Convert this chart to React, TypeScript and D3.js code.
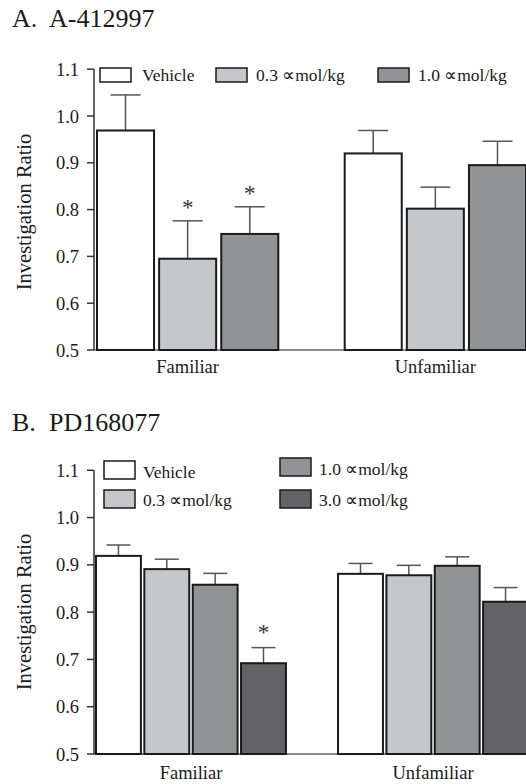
import React from "react";
import * as d3 from "d3";

const categories = ["Familiar", "Unfamiliar"];
const yTicks = [0.5, 0.6, 0.7, 0.8, 0.9, 1.0, 1.1];

const seriesA = ["Vehicle", "0.3 \u221Dmol/kg", "1.0 \u221Dmol/kg"];
const colorsA = ["#ffffff", "#c6c7c9", "#929396"];
const meansA = [
  [0.969, 0.695, 0.748],
  [0.92, 0.802, 0.895],
];
const semA = [
  [0.076, 0.081, 0.058],
  [0.049, 0.046, 0.051],
];
const sigA = [
  [false, true, true],
  [false, false, false],
];

const seriesB = ["Vehicle", "0.3 \u221Dmol/kg", "1.0 \u221Dmol/kg", "3.0 \u221Dmol/kg"];
const colorsB = ["#ffffff", "#c6c7c9", "#929396", "#636365"];
const meansB = [
  [0.919, 0.891, 0.858, 0.692],
  [0.881, 0.878, 0.898, 0.822],
];
const semB = [
  [0.023, 0.021, 0.024, 0.033],
  [0.022, 0.021, 0.019, 0.03],
];
const sigB = [
  [false, false, false, true],
  [false, false, false, false],
];

const FONT = "'Liberation Serif', 'Times New Roman', serif";

type LegendItem = { x: number; y: number; w: number; h: number; tx: number; ty: number };

type PanelProps = {
  title: [string, string];
  titleY: number;
  titleX2: number;
  series: string[];
  colors: string[];
  means: number[][];
  sems: number[][];
  sig: boolean[][];
  yRange: [number, number];
  xRange: [number, number];
  padInner: number;
  barPad: number;
  capW: number;
  legend: LegendItem[];
  ylabelY: number;
  catY: number;
  starOffset: number;
};

function Panel(p: PanelProps) {
  const y = d3.scaleLinear().domain([0.5, 1.1]).range(p.yRange);
  const x0 = d3.scaleBand<string>().domain(categories).range(p.xRange).paddingInner(p.padInner).paddingOuter(0);
  const x1 = d3
    .scaleBand<string>()
    .domain(p.series)
    .range([0, x0.bandwidth()])
    .paddingInner(p.barPad)
    .paddingOuter(0);
  const axisX = 94;
  return (
    <g fontFamily={FONT} fill="#1a1a1a">
      <text x={12} y={p.titleY} fontSize={26}>{p.title[0]}</text>
      <text x={p.titleX2} y={p.titleY} fontSize={26}>{p.title[1]}</text>
      {/* baseline */}
      <line x1={axisX} x2={526} y1={y(0.5)} y2={y(0.5)} stroke="#666" strokeWidth={1.5} />
      {/* bars */}
      {categories.map((c, ci) => (
        <g key={c} transform={`translate(${x0(c)},0)`}>
          {p.series.map((s, si) => {
            const v = p.means[ci][si];
            const e = v + p.sems[ci][si];
            const bx = x1(s)!;
            const bw = x1.bandwidth();
            const cx = bx + bw / 2;
            return (
              <g key={s}>
                <line x1={cx} x2={cx} y1={y(v)} y2={y(e)} stroke="#555" strokeWidth={1.5} />
                <line x1={cx - p.capW / 2} x2={cx + p.capW / 2} y1={y(e)} y2={y(e)} stroke="#555" strokeWidth={1.5} />
                <rect
                  x={bx + 1}
                  y={y(v)}
                  width={bw - 2}
                  height={y(0.5) - y(v)}
                  fill={p.colors[si]}
                  stroke="#1a1a1a"
                  strokeWidth={2}
                />
                {p.sig[ci][si] && (
                  <text x={cx} y={y(e) - p.starOffset} fontSize={23} textAnchor="middle" fill="#333">
                    *
                  </text>
                )}
              </g>
            );
          })}
        </g>
      ))}
      {/* y axis */}
      <line x1={axisX} x2={axisX} y1={y(1.1)} y2={y(0.5)} stroke="#333" strokeWidth={1.5} />
      {yTicks.map((t) => (
        <g key={t}>
          <line x1={axisX - 7} x2={axisX} y1={y(t)} y2={y(t)} stroke="#333" strokeWidth={1.5} />
          <text x={79} y={y(t) + 6.5} fontSize={18.5} textAnchor="end">
            {d3.format(".1f")(t)}
          </text>
        </g>
      ))}
      <text
        transform={`translate(31,${p.ylabelY}) rotate(-90)`}
        fontSize={20.5}
        textAnchor="middle"
      >
        Investigation Ratio
      </text>
      {/* category labels */}
      {categories.map((c) => (
        <text key={c} x={x0(c)! + x0.bandwidth() / 2} y={p.catY} fontSize={18.5} textAnchor="middle">
          {c}
        </text>
      ))}
      {/* legend */}
      {p.series.map((s, si) => {
        const L = p.legend[si];
        return (
          <g key={s}>
            <rect x={L.x} y={L.y} width={L.w} height={L.h} fill={p.colors[si]} stroke="#1a1a1a" strokeWidth={1.5} />
            <text x={L.tx} y={L.ty} fontSize={17.5}>
              {s}
            </text>
          </g>
        );
      })}
    </g>
  );
}

export default function App() {
  const legendA: LegendItem[] = [
    { x: 100, y: 68, w: 31, h: 14, tx: 142, ty: 81 },
    { x: 216, y: 68, w: 31, h: 14, tx: 256, ty: 81 },
    { x: 378, y: 68, w: 31, h: 14, tx: 418, ty: 81 },
  ];
  const legendB: LegendItem[] = [
    { x: 104, y: 461, w: 31, h: 18, tx: 143, ty: 478 },
    { x: 104, y: 490, w: 31, h: 18, tx: 143, ty: 506 },
    { x: 280, y: 458, w: 31, h: 18, tx: 319, ty: 475 },
    { x: 280, y: 490, w: 31, h: 18, tx: 319, ty: 506 },
  ];
  return (
    <svg width={526} height={784} style={{ position: "absolute", left: 0, top: 0 }}>
      <rect width={526} height={784} fill="#fff" />
      <Panel
        title={["A.", "A-412997"]}
        titleY={27}
        titleX2={49}
        series={seriesA}
        colors={colorsA}
        means={meansA}
        sems={semA}
        sig={sigA}
        yRange={[350, 69.2]}
        xRange={[96, 527]}
        padInner={0.26}
        barPad={0.05}
        capW={30}
        legend={legendA}
        ylabelY={212}
        catY={373}
        starOffset={6}
      />
      <Panel
        title={["B.", "PD168077"]}
        titleY={431}
        titleX2={49}
        series={seriesB}
        colors={colorsB}
        means={meansB}
        sems={semB}
        sig={sigB}
        yRange={[754, 470.3]}
        xRange={[95, 529]}
        padInner={0.207}
        barPad={0.03}
        capW={24}
        legend={legendB}
        ylabelY={612}
        catY={779}
        starOffset={8}
      />
    </svg>
  );
}
